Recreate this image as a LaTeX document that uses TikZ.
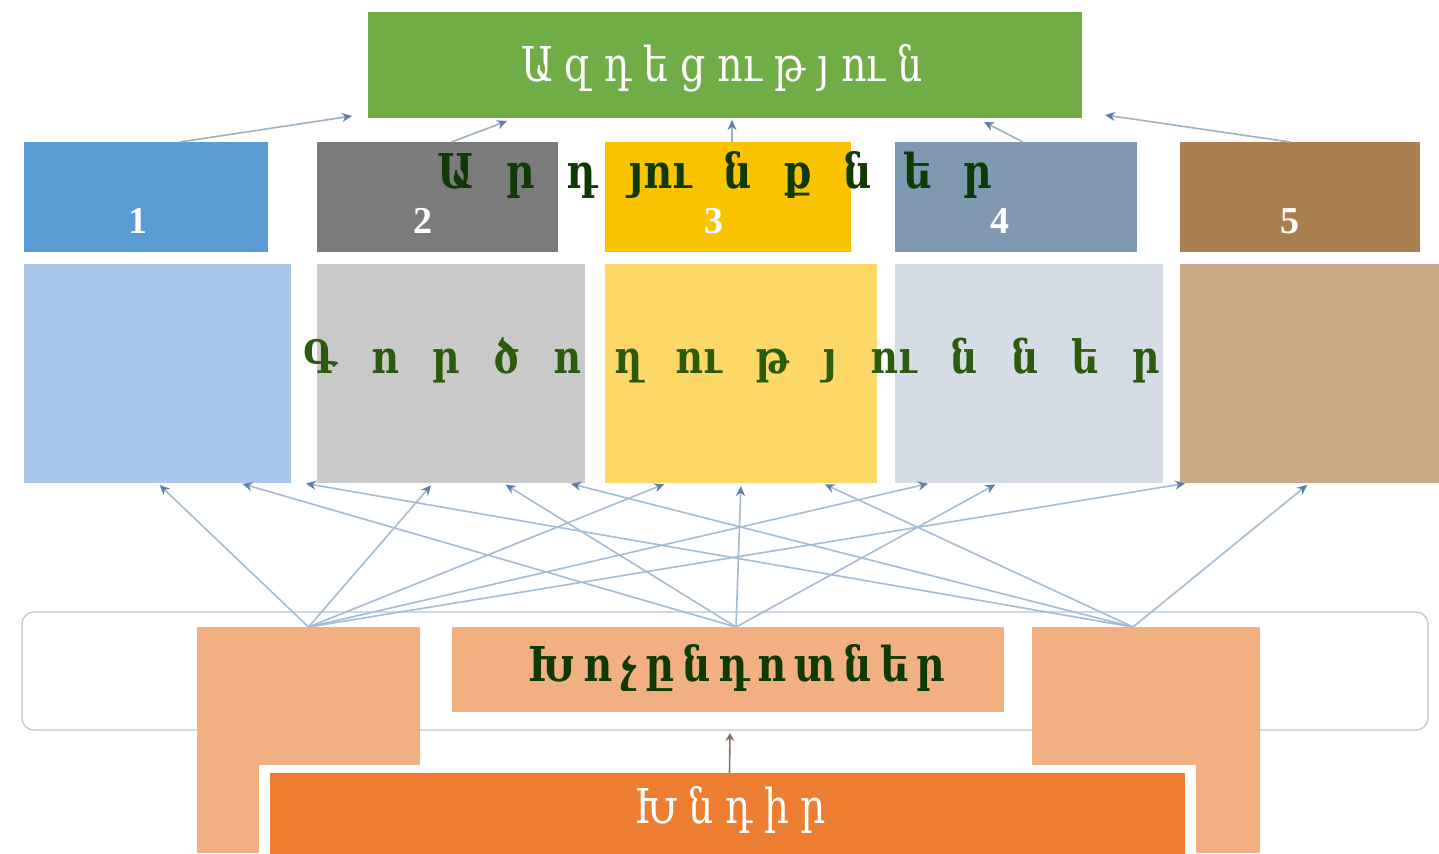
\documentclass[tikz,border=0pt]{standalone}
\usepackage{fontspec}
\setmainfont{DejaVu Serif}
\newfontfamily\armfont[FakeStretch=0.82]{DejaVu Serif}
\newfontfamily\numfont{Liberation Serif}
\usetikzlibrary{arrows.meta}
\definecolor{cgreen}{HTML}{70AD47}
\definecolor{cs1}{HTML}{5B9BD5}
\definecolor{cs2}{HTML}{7B7B7B}
\definecolor{cs3}{HTML}{FAC300}
\definecolor{cs4}{HTML}{8098B0}
\definecolor{cs5}{HTML}{A97F4F}
\definecolor{cb1}{HTML}{A9C7EA}
\definecolor{cb2}{HTML}{C9C9C9}
\definecolor{cb3}{HTML}{FDD866}
\definecolor{cb4}{HTML}{D6DCE5}
\definecolor{cb5}{HTML}{C9A986}
\definecolor{corl}{HTML}{F2B082}
\definecolor{cord}{HTML}{ED7D31}
\definecolor{dgreen}{HTML}{103A04}
\definecolor{mgreen}{HTML}{2B5C0E}
\definecolor{linec}{HTML}{A3BCD4}
\definecolor{headc}{HTML}{5E80A8}
\definecolor{bandc}{HTML}{B4C6D8}
\definecolor{brownc}{HTML}{8C7064}
\begin{document}
\begin{tikzpicture}[x=0.5pt,y=-0.5pt,
  box/.style={draw=none,inner sep=0pt,outer sep=0pt},
  conn/.style={draw=linec,line width=0.8pt,-{Stealth[length=5pt,width=4.5pt,color=headc]},shorten >=1.5pt},
  tconn/.style={draw=linec!80!gray,line width=0.8pt,-{Stealth[length=5pt,width=4.5pt,color=headc]}},
  numlbl/.style={text=white,font=\numfont\bfseries\fontsize{19}{22}\selectfont,inner sep=0pt},
  armw/.style={text=white,font=\armfont\fontsize{24}{28}\selectfont,inner sep=0pt},
  armg/.style={text=dgreen,font=\armfont\bfseries\fontsize{24}{28}\selectfont,inner sep=0pt}
]
\useasboundingbox (0,0) rectangle (1439,853);
\clip (0,0) rectangle (1439,853);
\fill[white] (0,0) rectangle (1439,853);

% top box
\node[box,fill=cgreen,minimum width=357pt,minimum height=53pt] (top) at (725,65) {};
\node[armw] (ttl) at (722,68) {\spaceskip=6pt Ա զ դ ե ց ու թ յ ու ն};

% small boxes
\node[box,fill=cs1,minimum width=122pt,minimum height=55pt] (s1) at (146,197) {};
\node[box,fill=cs2,minimum width=120.5pt,minimum height=55pt] (s2) at (437.5,197) {};
\node[box,fill=cs3,minimum width=123pt,minimum height=55pt] (s3) at (728,197) {};
\node[box,fill=cs4,minimum width=121pt,minimum height=55pt] (s4) at (1016,197) {};
\node[box,fill=cs5,minimum width=120pt,minimum height=55pt] (s5) at (1300,197) {};
\node[numlbl] (n1) at (138,221) {1};
\node[numlbl] (n2) at (423,221) {2};
\node[numlbl] (n3) at (714,221) {3};
\node[numlbl] (n4) at (1000,221) {4};
\node[numlbl] (n5) at (1290,221) {5};
\node[armg] (res) at (715,175) {\spaceskip=15.75pt Ա ր դ յու ն ք ն ե ր};

% big boxes
\node[box,fill=cb1,minimum width=133.5pt,minimum height=109.5pt] (b1) at (157.5,373.5) {};
\node[box,fill=cb2,minimum width=134pt,minimum height=109.5pt] (b2) at (451,373.5) {};
\node[box,fill=cb3,minimum width=136pt,minimum height=109.5pt] (b3) at (741,373.5) {};
\node[box,fill=cb4,minimum width=134pt,minimum height=109.5pt] (b4) at (1029,373.5) {};
\node[box,fill=cb5,minimum width=129.5pt,minimum height=109.5pt] (b5) at (1309.5,373.5) {};
\node[armg,text=mgreen,font=\armfont\bfseries\fontsize{23}{27}\selectfont] (act) at (732,360) {\spaceskip=16.75pt Գ ո ր ծ ո ղ ու թ յ ու ն ն ե ր};

% bottom band
\node[box,draw=bandc,line width=0.6pt,rounded corners=6pt,minimum width=703pt,minimum height=59pt] (band) at (725,671) {};
\node[box,fill=corl,minimum width=111.5pt,minimum height=113pt] (tallL) at (308.5,740) {};
\node[box,fill=corl,minimum width=114pt,minimum height=113pt] (tallR) at (1146,740) {};
\node[box,fill=corl,minimum width=276pt,minimum height=42.5pt] (mid) at (728,669.5) {};
\node[armg,font=\armfont\bfseries\fontsize{24}{28}\selectfont] (obs) at (737,668) {\spaceskip=4pt Խ ո չ ը ն դ ո տ ն ե ր};
\node[box,fill=white,minimum width=468.5pt,minimum height=50pt] (frame) at (727.5,815) {};
\node[box,fill=cord,minimum width=457.5pt,minimum height=45pt] (prob) at (727.5,818) {};
\node[armw] (pr) at (730,810) {\spaceskip=5.75pt Խ ն դ ի ր};

% arrows top
\draw[tconn] ([xshift=17pt]s1.north) -- ([xshift=-8pt,yshift=1pt]top.south west);
\draw[tconn] ([xshift=7pt]s2.north) -- ([xshift=69.5pt,yshift=-1.5pt]top.south west);
\draw[tconn] ([xshift=2pt]s3.north) -- ([xshift=3.5pt,yshift=-1pt]top.south);
\draw[tconn] ([xshift=3.5pt]s4.north) -- ([xshift=129.5pt,yshift=-2pt]top.south);
\draw[tconn] ([xshift=-5pt]s5.north) -- ([xshift=11.5pt,yshift=1.5pt]top.south east);

% arrows bottom to actions
\draw[conn] (tallL.north) -- (b1.south);
\draw[conn] (tallL.north) -- ([xshift=-9pt]b2.south);
\draw[conn] (tallL.north) -- ([xshift=-37pt]b3.south);
\draw[conn] (tallL.north) -- ([xshift=-49pt]b4.south);
\draw[conn] (tallL.north) -- ([xshift=-60.75pt]b5.south);
\draw[conn] ([xshift=4pt]mid.north) -- ([xshift=41pt]b1.south);
\draw[conn] ([xshift=4pt]mid.north) -- ([xshift=26pt]b2.south);
\draw[conn] ([xshift=4pt]mid.north) -- (b3.south);
\draw[conn] ([xshift=4pt]mid.north) -- ([xshift=-15.5pt]b4.south);
\draw[conn] ([xshift=-6.5pt]tallR.north) -- ([xshift=6pt]b1.south east);
\draw[conn] ([xshift=-6.5pt]tallR.north) -- ([xshift=58.5pt]b2.south);
\draw[conn] ([xshift=-6.5pt]tallR.north) -- ([xshift=40.5pt]b3.south);
\draw[conn] ([xshift=-6.5pt]tallR.north) -- (b5.south);

% problem to obstacles
\draw[draw=brownc,line width=0.8pt,-{Stealth[length=4pt,width=4.5pt]},shorten >=1.5pt] ([xshift=1pt]prob.north) -- ([xshift=2.5pt]band.south);
\end{tikzpicture}
\end{document}
